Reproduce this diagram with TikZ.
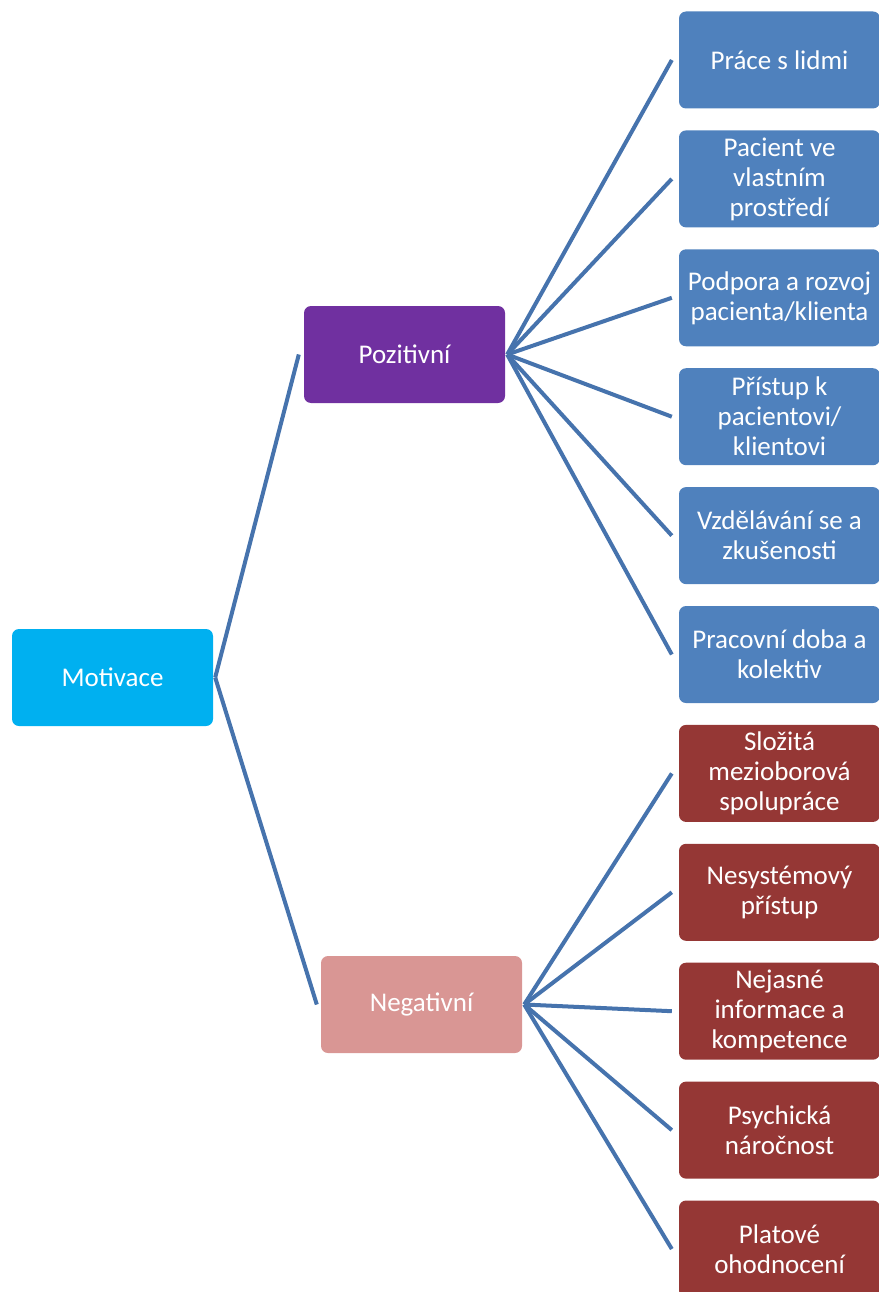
\documentclass[tikz,border=0pt]{standalone}
\usepackage{fontspec}
\setmainfont{Carlito}
\usepackage{tikz}
\usetikzlibrary{positioning}

\definecolor{motivcol}{HTML}{00B0F0}
\definecolor{poscol}{HTML}{7030A0}
\definecolor{negcol}{HTML}{D99694}
\definecolor{itemblue}{HTML}{4F81BD}
\definecolor{itemred}{HTML}{953735}
\definecolor{linkcol}{HTML}{4673AD}

\tikzset{
  box/.style={rectangle, rounded corners=7pt, text=white, align=center,
    minimum width=201pt, minimum height=97pt, inner sep=2pt,
    font=\fontsize{27}{30}\selectfont},
  posbox/.style={box, fill=itemblue},
  negbox/.style={box, fill=itemred},
  link/.style={draw=linkcol, line width=4pt},
}

\begin{document}
\begin{tikzpicture}[x=1pt,y=1pt]
    \useasboundingbox (0,0) rectangle (878,-1292);

    \node[box, fill=motivcol] (moti) at (112.5,-677.5) {Motivace};
    \node[box, fill=poscol] (pos) at (404.5,-354.5) {Pozitivní};
    \node[box, fill=negcol] (neg) at (421.5,-1004.5) {Negativní};

    \node[posbox] (p1) at (779.5,-60) {Práce s lidmi};
    \node[posbox, below=21.5pt of p1] (p2) {Pacient ve\\vlastním\\prostředí};
    \node[posbox, below=21.5pt of p2] (p3) {Podpora a rozvoj\\pacienta/klienta};
    \node[posbox, below=21.5pt of p3] (p4) {Přístup k\\pacientovi/\\klientovi};
    \node[posbox, below=21.5pt of p4] (p5) {Vzdělávání se a\\zkušenosti};
    \node[posbox, below=21.5pt of p5] (p6) {Pracovní doba a\\kolektiv};
    \node[negbox, below=21.5pt of p6] (n1) {Složitá\\mezioborová\\spolupráce};
    \node[negbox, below=21.5pt of n1] (n2) {Nesystémový\\přístup};
    \node[negbox, below=21.5pt of n2] (n3) {Nejasné\\informace a\\kompetence};
    \node[negbox, below=21.5pt of n3] (n4) {Psychická\\náročnost};
    \node[negbox, below=21.5pt of n4] (n5) {Platové\\ohodnocení};

    \draw[link] ([xshift=2pt]moti.east) -- ([xshift=-5pt]pos.west);
    \draw[link] ([xshift=2pt]moti.east) -- ([xshift=-4pt]neg.west);
    \foreach \i in {1,...,6}
      \draw[link] ([xshift=2pt]pos.east) -- ([xshift=-7pt]p\i.west);
    \foreach \i in {1,...,5}
      \draw[link] ([xshift=2pt]neg.east) -- ([xshift=-7pt]n\i.west);
\end{tikzpicture}
\end{document}
